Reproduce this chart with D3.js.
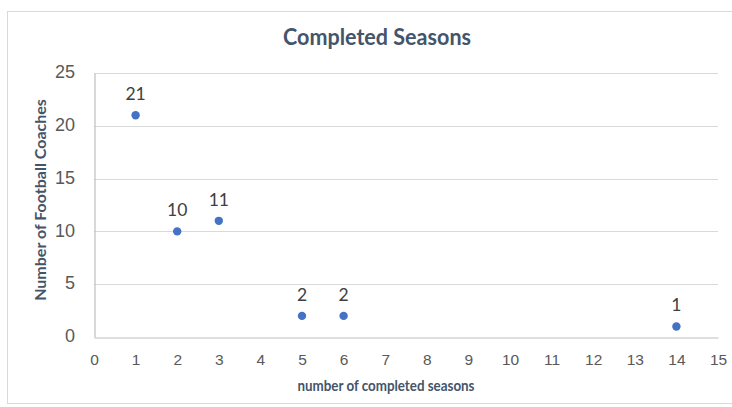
<!DOCTYPE html>
<html>
<head>
<meta charset="utf-8">
<script src="https://cdn.jsdelivr.net/npm/d3@7"></script>
<style>
  html, body { margin: 0; padding: 0; background: #fff; }
  svg { display: block; font-family: Lato, "Open Sans", sans-serif; }
</style>
</head>
<body>
<svg id="chart" width="732" height="407"></svg>
<script>
// Completed seasons per coach
const seasons = [1, 2, 3, 5, 6, 14];
const coaches = [21, 10, 11, 2, 2, 1];
const xTicks = d3.range(0, 16, 1);
const yTicks = [0, 5, 10, 15, 20, 25];

(function () {
  const svg = d3.select("#chart");
  const plotLeft = 94, plotRight = 718, plotTop = 73, plotBottom = 337;

  const x = d3.scaleLinear().domain([0, 15]).range([plotLeft, plotRight]);
  const y = d3.scaleLinear().domain([0, 25]).range([plotBottom, plotTop]);

  // chart frame
  svg.append("rect")
    .attr("x", 7.5).attr("y", 11.5)
    .attr("width", 740).attr("height", 392)
    .attr("fill", "#fff").attr("stroke", "#d9d9d9");

  // horizontal gridlines
  svg.append("g")
    .selectAll("line")
    .data(yTicks.filter(d => d > 0))
    .join("line")
    .attr("x1", plotLeft).attr("x2", plotRight)
    .attr("y1", d => Math.round(y(d)) + 0.5).attr("y2", d => Math.round(y(d)) + 0.5)
    .attr("stroke", "#d9d9d9").attr("stroke-width", 1);

  // axes
  const yAxis = d3.axisLeft(y).tickValues(yTicks).tickSize(0).tickPadding(19.5);
  const xAxis = d3.axisBottom(x).tickValues(xTicks).tickSize(0).tickPadding(16);

  const gy = svg.append("g").attr("transform", `translate(${plotLeft + 0.5},0)`).call(yAxis);
  const gx = svg.append("g").attr("transform", `translate(0,${plotBottom + 0.5})`).call(xAxis);

  [gx, gy].forEach(g => {
    g.select(".domain").attr("stroke", "#bfbfbf").attr("stroke-width", 1.2);
    g.selectAll("text").attr("fill", "#595959");
  });
  gy.selectAll("text").attr("font-size", 18).attr("dy", "0.26em");
  gx.selectAll("text").attr("font-size", 15.5);

  const pts = seasons.map((s, i) => ({ s, c: coaches[i] }));

  // points
  svg.append("g")
    .selectAll("circle")
    .data(pts)
    .join("circle")
    .attr("cx", d => x(d.s))
    .attr("cy", d => y(d.c))
    .attr("r", 4.2)
    .attr("fill", "#4472c4");

  // value labels
  svg.append("g")
    .selectAll("text")
    .data(pts)
    .join("text")
    .attr("x", d => x(d.s))
    .attr("y", d => y(d.c) - 15)
    .attr("text-anchor", "middle")
    .attr("fill", "#404040")
    .attr("font-size", 17.5)
    .text(d => d.c);

  // titles
  svg.append("text")
    .attr("x", 377).attr("y", 45)
    .attr("text-anchor", "middle")
    .attr("font-size", 22.5).attr("font-weight", "bold")
    .attr("fill", "#44546a")
    .attr("textLength", 188).attr("lengthAdjust", "spacingAndGlyphs")
    .text("Completed Seasons");

  svg.append("text")
    .attr("x", 386).attr("y", 391)
    .attr("text-anchor", "middle")
    .attr("font-size", 15.5).attr("font-weight", "bold")
    .attr("fill", "#44546a")
    .attr("textLength", 177).attr("lengthAdjust", "spacingAndGlyphs")
    .text("number of completed seasons");

  svg.append("text")
    .attr("transform", "translate(46,200) rotate(-90)")
    .attr("text-anchor", "middle")
    .attr("font-size", 16).attr("font-weight", "bold")
    .attr("fill", "#44546a")
    .text("Number of Football Coaches");
})();
</script>
</body>
</html>
